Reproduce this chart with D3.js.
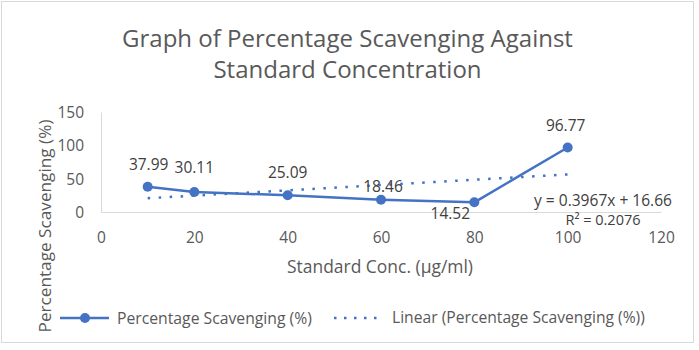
<!DOCTYPE html>
<html>
<head>
<meta charset="utf-8">
<script src="https://cdn.jsdelivr.net/npm/d3@7"></script>
<style>
  html, body { margin: 0; padding: 0; background: #fff; }
  svg { display: block; font-family: "Open Sans", sans-serif; }
</style>
</head>
<body>
<svg id="chart" width="699" height="350"></svg>
<script>
// ---- data ----
const concentrations = [10, 20, 40, 60, 80, 100];
const scavenging = [37.99, 30.11, 25.09, 18.46, 14.52, 96.77];
const labels = ["37.99", "30.11", "25.09", "18.46", "14.52", "96.77"];
const xTicks = [0, 20, 40, 60, 80, 100, 120];
const yTicks = [0, 50, 100, 150];
const trendSlope = 0.3967;
const trendIntercept = 16.66;
const equationText = "y = 0.3967x + 16.66";
const r2Text = "R² = 0.2076";
const titleLines = ["Graph of Percentage Scavenging Against", "Standard Concentration"];
const xTitle = "Standard Conc. (µg/ml)";
const yTitle = "Percentage Scavenging (%)";
const legendNames = ["Percentage Scavenging (%)", "Linear (Percentage Scavenging (%))"];

// ---- layout ----
const labelOffsets = [[1, -22], [0, -24], [0, -23], [2, -13], [-24, 11], [-2, -22]];
const blue = "#4472C4";
const textCol = "#595959";

const svg = d3.select("#chart");
svg.append("rect").attr("x", 1.5).attr("y", 1.5).attr("width", 692).attr("height", 341)
  .attr("fill", "#fff").attr("stroke", "#d9d9d9");

const x = d3.scaleLinear().domain([0, 120]).range([101, 661]);
const y = d3.scaleLinear().domain([0, 150]).range([212, 112]);

function fit(sel, w) {
  const n = sel.node();
  const fs = parseFloat(sel.attr("font-size"));
  const len = n.getComputedTextLength();
  sel.attr("font-size", (fs * w / len).toFixed(2));
}

// title
const tBase = [47, 78];
const titleEls = titleLines.map((t, i) => svg.append("text").attr("x", 347.5).attr("y", tBase[i])
  .attr("text-anchor", "middle").attr("fill", textCol).attr("font-size", 22).text(t));
fit(titleEls[0], 451);
titleEls[1].attr("font-size", titleEls[0].attr("font-size"));

// axes
const xAxis = d3.axisBottom(x).tickValues(xTicks).tickSize(0).tickPadding(0);
const gx = svg.append("g").attr("transform", `translate(0,${y(0)})`).call(xAxis);
gx.select(".domain").attr("stroke", "#d9d9d9").attr("stroke-width", 1);
gx.selectAll("text").attr("fill", textCol).attr("font-size", 15.5)
  .attr("font-family", "Open Sans").attr("y", 26).attr("dy", "0.35em");

const yAxis = d3.axisLeft(y).tickValues(yTicks).tickSize(0).tickPadding(0);
const gy = svg.append("g").attr("transform", `translate(${x(0)},0)`).call(yAxis);
gy.select(".domain").attr("stroke", "#d9d9d9").attr("stroke-width", 1);
gy.selectAll("text").attr("fill", textCol).attr("font-size", 15.5)
  .attr("font-family", "Open Sans").attr("x", -17).attr("dy", "0.35em");

// axis titles
const xt = svg.append("text").attr("x", 380).attr("y", 267).attr("dy", "0.35em")
  .attr("text-anchor", "middle").attr("fill", textCol).attr("font-size", 16).text(xTitle);
fit(xt, 186);
const yt = svg.append("text").attr("transform", "translate(45,226) rotate(-90)").attr("dy", "0.35em")
  .attr("text-anchor", "middle").attr("fill", textCol).attr("font-size", 16).text(yTitle);
fit(yt, 213);

// trendline
const tx = d3.extent(concentrations);
svg.append("line")
  .attr("x1", x(tx[0])).attr("y1", y(trendSlope * tx[0] + trendIntercept))
  .attr("x2", x(tx[1])).attr("y2", y(trendSlope * tx[1] + trendIntercept))
  .attr("stroke", blue).attr("stroke-width", 2.5).attr("stroke-dasharray", "2.5 8.5");

// series line
const pts = concentrations.map((c, i) => [c, scavenging[i]]);
svg.append("path").datum(pts)
  .attr("d", d3.line().x(d => x(d[0])).y(d => y(d[1])))
  .attr("fill", "none").attr("stroke", blue).attr("stroke-width", 2.5).attr("stroke-linejoin", "round");
svg.selectAll("circle.pt").data(pts).join("circle").attr("class", "pt")
  .attr("cx", d => x(d[0])).attr("cy", d => y(d[1])).attr("r", 5).attr("fill", blue);

// data labels
svg.selectAll("text.lbl").data(pts).join("text").attr("class", "lbl")
  .attr("x", (d, i) => x(d[0]) + labelOffsets[i][0])
  .attr("y", (d, i) => y(d[1]) + labelOffsets[i][1])
  .attr("dy", "0.35em").attr("text-anchor", "middle")
  .attr("fill", "#404040").attr("font-size", 15.5).text((d, i) => labels[i]);

// equation
const eq = svg.append("text").attr("x", 603).attr("y", 201).attr("dy", "0.35em").attr("text-anchor", "middle")
  .attr("fill", "#404040").attr("font-size", 15).text(equationText);
fit(eq, 138);
svg.append("text").attr("x", 603).attr("y", 219.5).attr("dy", "0.35em").attr("text-anchor", "middle")
  .attr("fill", "#404040").attr("font-size", 14.5).text(r2Text);

// legend
const ly = 318;
svg.append("line").attr("x1", 60).attr("x2", 109).attr("y1", ly).attr("y2", ly)
  .attr("stroke", blue).attr("stroke-width", 2.5);
svg.append("circle").attr("cx", 85).attr("cy", ly).attr("r", 5).attr("fill", blue);
const l1 = svg.append("text").attr("x", 117).attr("y", ly).attr("dy", "0.35em")
  .attr("fill", textCol).attr("font-size", 14.5).text(legendNames[0]);
fit(l1, 195);
svg.append("line").attr("x1", 334).attr("x2", 384).attr("y1", ly).attr("y2", ly)
  .attr("stroke", blue).attr("stroke-width", 2.5).attr("stroke-dasharray", "2.5 7.5");
const l2 = svg.append("text").attr("x", 392).attr("y", ly).attr("dy", "0.35em")
  .attr("fill", textCol).attr("font-size", 14.5).text(legendNames[1]);
fit(l2, 253);
</script>
</body>
</html>
